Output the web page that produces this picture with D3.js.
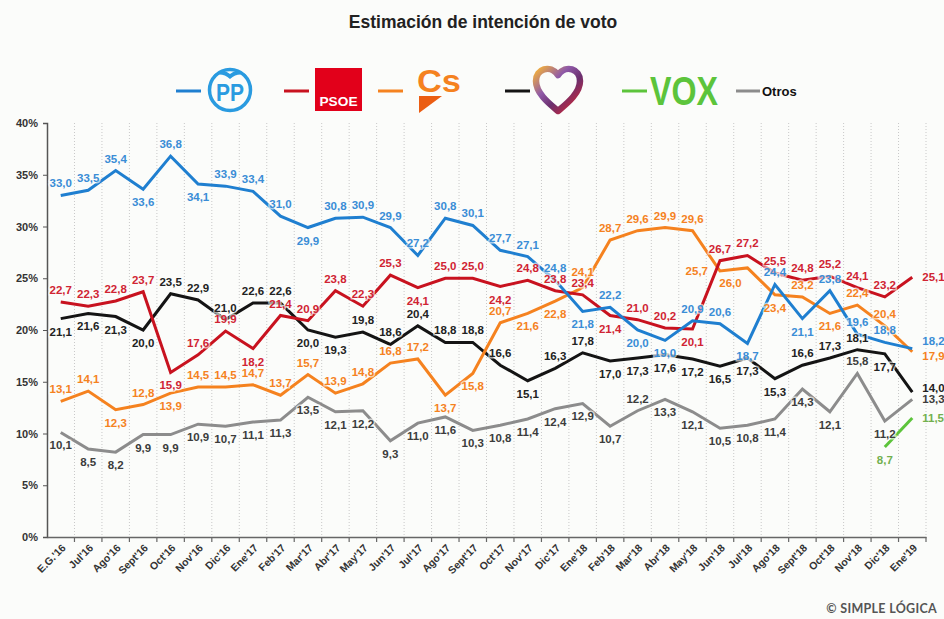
<!DOCTYPE html>
<html>
<head>
<meta charset="utf-8">
<script src="https://cdn.jsdelivr.net/npm/d3@7"></script>
<style>
  body { margin: 0; background: #fbfcfa; }
  svg { display: block; }
  text { font-family: "Liberation Sans", Arial, sans-serif; }
</style>
</head>
<body>
<div id="chart"></div>
<script>
var width = 944;
var height = 619;

var categories = ["E.G.'16", "Jul'16", "Ago'16", "Sept'16", "Oct'16", "Nov'16", "Dic'16",
  "Ene'17", "Feb'17", "Mar'17", "Abr'17", "May'17", "Jun'17", "Jul'17", "Ago'17", "Sept'17",
  "Oct'17", "Nov'17", "Dic'17", "Ene'18", "Feb'18", "Mar'18", "Abr'18", "May'18", "Jun'18",
  "Jul'18", "Ago'18", "Sept'18", "Oct'18", "Nov'18", "Dic'18", "Ene'19"];

var ppValues = [33.0, 33.5, 35.4, 33.6, 36.8, 34.1, 33.9, 33.4, 31.0, 29.9, 30.8, 30.9, 29.9, 27.2, 30.8, 30.1,
  27.7, 27.1, 24.8, 21.8, 22.2, 20.0, 19.0, 20.9, 20.6, 18.7, 24.4, 21.1, 23.8, 19.6, 18.8, 18.2];
var psoeValues = [22.7, 22.3, 22.8, 23.7, 15.9, 17.6, 19.9, 18.2, 21.4, 20.9, 23.8, 22.3, 25.3, 24.1, 25.0, 25.0,
  24.2, 24.8, 23.8, 23.4, 21.4, 21.0, 20.2, 20.1, 26.7, 27.2, 25.5, 24.8, 25.2, 24.1, 23.2, 25.1];
var csValues = [13.1, 14.1, 12.3, 12.8, 13.9, 14.5, 14.5, 14.7, 13.7, 15.7, 13.9, 14.8, 16.8, 17.2, 13.7, 15.8,
  20.7, 21.6, 22.8, 24.1, 28.7, 29.6, 29.9, 29.6, 25.7, 26.0, 23.4, 23.2, 21.6, 22.4, 20.4, 17.9];
var podemosValues = [21.1, 21.6, 21.3, 20.0, 23.5, 22.9, 21.0, 22.6, 22.6, 20.0, 19.3, 19.8, 18.6, 20.4, 18.8, 18.8,
  16.6, 15.1, 16.3, 17.8, 17.0, 17.3, 17.6, 17.2, 16.5, 17.3, 15.3, 16.6, 17.3, 18.1, 17.7, 14.0];
var voxValues = [null, null, null, null, null, null, null, null, null, null, null, null, null, null, null, null,
  null, null, null, null, null, null, null, null, null, null, null, null, null, null, 8.7, 11.5];
var otrosValues = [10.1, 8.5, 8.2, 9.9, 9.9, 10.9, 10.7, 11.1, 11.3, 13.5, 12.1, 12.2, 9.3, 11.0, 11.6, 10.3,
  10.8, 11.4, 12.4, 12.9, 10.7, 12.2, 13.3, 12.1, 10.5, 10.8, 11.4, 14.3, 12.1, 15.8, 11.2, 13.3];

// where each value label sits: a = above, b = below, r.. = right of the last point
var ppLabelSide = "a a a b a b a a a b a a a a a a a a a b a b b a a b a b a a a ru".split(" ");
var psoeLabelSide = "a a a a b a a b a a a a a b a a b a a a b a a b a a a a a a a r".split(" ");
var csLabelSide = "a a b a b a a a a a a a a a b b a b b au a a a a l bl b a b a a rd".split(" ");
var podemosLabelSide = "b b b b a a a a a b b a a a a a a b a a b b b b b b b a a a b rm".split(" ");
var voxLabelSide = "b b b b b b b b b b b b b b b b b b b b b b b b b b b b b b b r".split(" ");
var otrosLabelSide = "b b b b b b b b b b b b b b b b b b b b b a b b b b b b b a b r".split(" ");

var yTicks = [0, 5, 10, 15, 20, 25, 30, 35, 40];

var series = [
  { name: "Otros", values: otrosValues, side: otrosLabelSide, color: "#8c8c8c", labelColor: "#3c3c3c" },
  { name: "Podemos", values: podemosValues, side: podemosLabelSide, color: "#141414", labelColor: "#222" },
  { name: "Cs", values: csValues, side: csLabelSide, color: "#f5821f", labelColor: "#f5821f" },
  { name: "PSOE", values: psoeValues, side: psoeLabelSide, color: "#c8121f", labelColor: "#d02433" },
  { name: "PP", values: ppValues, side: ppLabelSide, color: "#1f7fd0", labelColor: "#3a8dd6" },
  { name: "VOX", values: voxValues, side: voxLabelSide, color: "#5cc43b", labelColor: "#72b04e" }
];

var svg = d3.select("#chart").append("svg")
  .attr("width", width)
  .attr("height", height);

svg.append("rect").attr("width", width).attr("height", height).attr("fill", "#fbfcfa");

var x = d3.scaleBand().domain(categories).range([47, 926]).padding(0);
var y = d3.scaleLinear().domain([0, 40]).range([537, 123]);
function cx(i) { return x(categories[i]) + x.bandwidth() / 2; }

// title
svg.append("text")
  .attr("x", 483).attr("y", 28)
  .attr("text-anchor", "middle")
  .style("font-size", "17.5px").style("font-weight", "bold").style("fill", "#222")
  .text("Estimación de intención de voto");

// dotted verticals at category edges
var edges = categories.map(function(c) { return x(c) + x.bandwidth(); });
svg.append("g").selectAll("line")
  .data(edges)
  .enter().append("line")
  .attr("x1", function(d) { return d; }).attr("x2", function(d) { return d; })
  .attr("y1", y(40)).attr("y2", y(0))
  .attr("stroke", "#c8c8c8").attr("stroke-width", 1).attr("stroke-dasharray", "1,2");

// y axis
var yAxis = d3.axisLeft(y).tickValues(yTicks).tickSize(4).tickFormat(function(d) { return d + "%"; });
var gy = svg.append("g").attr("transform", "translate(47,0)").call(yAxis);
gy.select(".domain").attr("stroke", "#555").attr("stroke-width", 1.5);
gy.selectAll(".tick line").attr("stroke", "#555");
gy.selectAll(".tick text").attr("x", -9)
  .style("font-size", "11px").style("font-weight", "bold").style("fill", "#333");

// x axis
var xAxis = d3.axisBottom(x).tickSize(0).tickSizeOuter(0);
var gx = svg.append("g").attr("transform", "translate(0,537)").call(xAxis);
gx.select(".domain").attr("stroke", "#666").attr("stroke-width", 1.5);
gx.selectAll(".tick text")
  .attr("text-anchor", "end")
  .attr("transform", "translate(3,9) rotate(-45)")
  .attr("dy", "0.35em").attr("y", 0)
  .style("font-size", "10.5px").style("font-weight", "bold").style("fill", "#333");
svg.append("g").selectAll("line")
  .data(edges)
  .enter().append("line")
  .attr("x1", function(d) { return d; }).attr("x2", function(d) { return d; })
  .attr("y1", 537).attr("y2", 542)
  .attr("stroke", "#666").attr("stroke-width", 1.2);

// lines
var line = d3.line()
  .defined(function(d) { return d != null; })
  .x(function(d, i) { return cx(i); })
  .y(function(d) { return y(d); });

series.forEach(function(s) {
  svg.append("path")
    .datum(s.values)
    .attr("d", line)
    .attr("fill", "none")
    .attr("stroke", s.color)
    .attr("stroke-width", 3);
});

// value labels
function fmt(v) { return v.toFixed(1).replace(".", ","); }
var offsets = {
  a: [0, -8, "middle"], au: [0, -12, "middle"], b: [0, 17, "middle"],
  r: [10, 4, "start"], ru: [10, -4, "start"], rd: [10, 8, "start"], rm: [10, 0, "start"],
  l: [-12, 4, "end"], bl: [-17, 19, "middle"]
};
series.forEach(function(s) {
  var pts = [];
  s.values.forEach(function(v, i) { if (v != null) pts.push({ v: v, i: i, side: s.side[i] }); });
  svg.append("g").selectAll("text")
    .data(pts)
    .enter().append("text")
    .attr("x", function(d) { return cx(d.i) + offsets[d.side][0]; })
    .attr("y", function(d) { return y(d.v) + offsets[d.side][1]; })
    .attr("text-anchor", function(d) { return offsets[d.side][2]; })
    .style("font-size", "11.5px").style("font-weight", "bold")
    .style("fill", s.labelColor)
    .style("stroke", "rgba(251,252,250,0.65)").style("stroke-width", 3)
    .style("paint-order", "stroke")
    .text(function(d) { return fmt(d.v); });
});

// legend
var leg = svg.append("g");
function legLine(x0, color) {
  leg.append("line").attr("x1", x0).attr("x2", x0 + 25).attr("y1", 91).attr("y2", 91)
    .attr("stroke", color).attr("stroke-width", 3);
}
legLine(176, "#1f7fd0");
leg.append("circle").attr("cx", 230).attr("cy", 90).attr("r", 20.5)
  .attr("fill", "none").attr("stroke", "#2a9be0").attr("stroke-width", 3.5);
leg.append("path").attr("d", "M213,76 Q222,67 230,74 Q238,67 247,76 Q238,72 230,79 Q222,72 213,76 Z")
  .attr("fill", "#2a9be0");
leg.append("text").attr("x", 230).attr("y", 101).attr("text-anchor", "middle")
  .style("font-size", "23px").style("font-weight", "bold").style("fill", "#2a9be0")
  .attr("textLength", 28).attr("lengthAdjust", "spacingAndGlyphs").text("PP");

legLine(284, "#c8121f");
leg.append("rect").attr("x", 315).attr("y", 68).attr("width", 47).attr("height", 43).attr("fill", "#e2001a");
leg.append("text").attr("x", 338.5).attr("y", 106).attr("text-anchor", "middle")
  .style("font-size", "13px").style("font-weight", "bold").style("fill", "#fff")
  .attr("textLength", 38).attr("lengthAdjust", "spacingAndGlyphs").text("PSOE");

legLine(378, "#f5821f");
leg.append("text").attr("x", 417).attr("y", 92)
  .style("font-size", "32px").style("font-weight", "bold").style("fill", "#f5821f")
  .attr("textLength", 44).attr("lengthAdjust", "spacingAndGlyphs").text("Cs");
leg.append("path").attr("d", "M419,96 L442,96 L419,113 Z").attr("fill", "#eb5d12");

legLine(505, "#141414");
var defs = svg.append("defs");
var grad = defs.append("linearGradient").attr("id", "heartGrad")
  .attr("x1", "0").attr("y1", "0").attr("x2", "1").attr("y2", "1");
grad.append("stop").attr("offset", "0").attr("stop-color", "#f4b13a");
grad.append("stop").attr("offset", "0.35").attr("stop-color", "#8f5aa8");
grad.append("stop").attr("offset", "0.6").attr("stop-color", "#6b2f6e");
grad.append("stop").attr("offset", "1").attr("stop-color", "#e0262d");
leg.append("path")
  .attr("d", "M558,111 C551,105 536,94 536,81 C536,69 550,64 558,75 C566,64 580,69 580,81 C580,94 565,105 558,111 Z")
  .attr("fill", "none").attr("stroke", "url(#heartGrad)").attr("stroke-width", 6.5).attr("stroke-linejoin", "round");

legLine(622, "#5cc43b");
leg.append("text").attr("x", 650).attr("y", 105)
  .style("font-size", "40px").style("font-weight", "bold").style("fill", "#5cc43b")
  .attr("textLength", 68).attr("lengthAdjust", "spacingAndGlyphs").text("VOX");

leg.append("line").attr("x1", 736).attr("x2", 760).attr("y1", 91).attr("y2", 91)
  .attr("stroke", "#8c8c8c").attr("stroke-width", 3);
leg.append("text").attr("x", 762).attr("y", 96)
  .style("font-size", "13px").style("font-weight", "bold").style("fill", "#111").text("Otros");

// credit
svg.append("text")
  .attr("x", 937).attr("y", 613).attr("text-anchor", "end")
  .style("font-family", "Lato, sans-serif").style("font-size", "12.5px").style("font-weight", "bold")
  .style("fill", "#555").style("letter-spacing", "0.3px")
  .text("© SIMPLE LÓGICA");
</script>
</body>
</html>
